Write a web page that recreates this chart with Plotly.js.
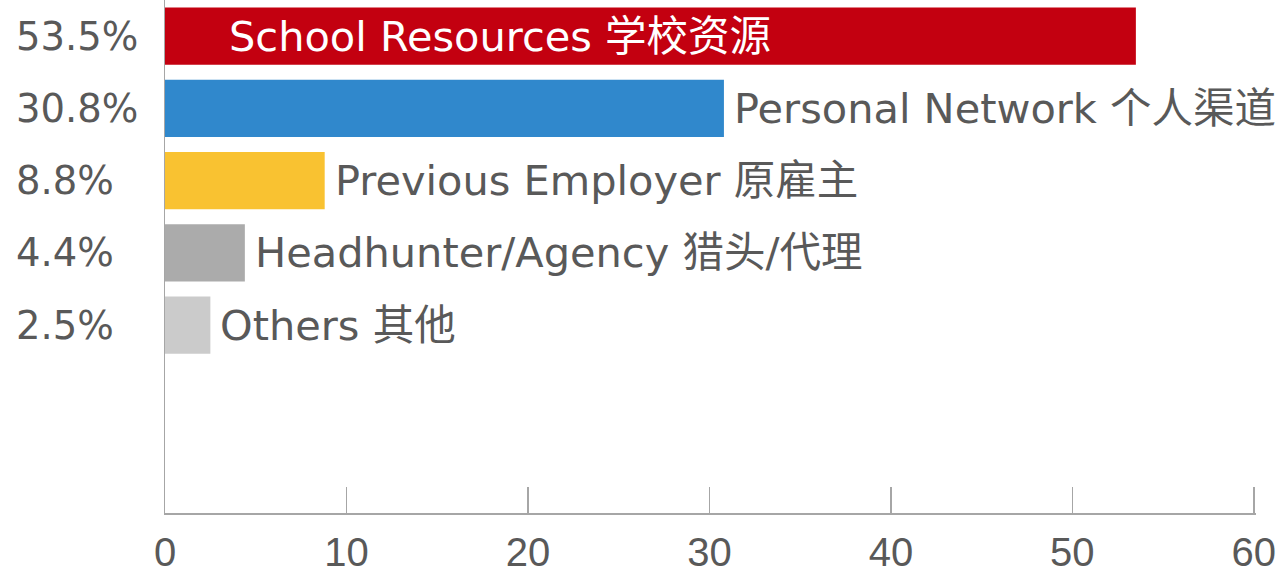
<!DOCTYPE html>
<html>
<head>
<meta charset="utf-8">
<script src="https://cdn.plot.ly/plotly-3.0.1.min.js"></script>
<style>
  html, body { margin: 0; padding: 0; background: #ffffff; }
  #chart { width: 1277px; height: 581px; }
</style>
</head>
<body>
<div id="chart"></div>
<script>
// ---- data ----
const categories = [
  'School Resources 学校资源',
  'Personal Network 个人渠道',
  'Previous Employer 原雇主',
  'Headhunter/Agency 猎头/代理',
  'Others 其他'
];
const values = [53.5, 30.8, 8.8, 4.4, 2.5];
const pctLabels = ['53.5%', '30.8%', '8.8%', '4.4%', '2.5%'];
const xTicks = [0, 10, 20, 30, 40, 50, 60];

// ---- styles ----
const barColors = ['#c30010', '#3088cc', '#f9c231', '#ababab', '#cbcbcb'];
const FONT = 'DejaVu Sans, Noto Sans CJK SC, sans-serif';
const TICKFONT = 'Liberation Sans, Arial, sans-serif';
const TEXT = '#595959';
const AXIS = '#a6a6a6';

const trace = {
  type: 'bar',
  orientation: 'h',
  x: values,
  y: categories,
  width: 0.79,
  marker: { color: barColors, line: { width: 0 } },
  hoverinfo: 'x+y'
};

const annotations = [];
categories.forEach((c, i) => {
  const inside = values[i] > 40;
  annotations.push({
    xref: 'x', yref: 'y',
    x: inside ? 0 : values[i],
    y: c,
    text: c,
    showarrow: false,
    xanchor: 'left',
    yanchor: 'middle',
    xshift: inside ? 62 : 8,
    font: { family: FONT, size: 41.5, color: inside ? '#ffffff' : TEXT }
  });
  annotations.push({
    xref: 'paper', yref: 'y',
    x: 0, y: c,
    text: pctLabels[i],
    showarrow: false,
    xanchor: 'left',
    yanchor: 'middle',
    xshift: -151,
    font: { family: FONT, size: 38.5, color: TEXT }
  });
});

const layout = {
  width: 1277,
  height: 581,
  margin: { l: 165, r: 21, t: 0, b: 68, pad: 0 },
  paper_bgcolor: '#ffffff',
  plot_bgcolor: '#ffffff',
  showlegend: false,
  font: { family: FONT, color: TEXT },
  xaxis: {
    range: [0, 60.12],
    tickvals: xTicks,
    ticktext: xTicks.map(String),
    ticks: 'inside',
    ticklen: 26,
    tickwidth: 1.5,
    tickcolor: AXIS,
    ticklabelstandoff: 3,
    ticklabeloverflow: 'allow',
    showline: true,
    linecolor: AXIS,
    linewidth: 1.5,
    showgrid: false,
    zeroline: false,
    tickfont: { family: TICKFONT, size: 40, color: TEXT },
    fixedrange: true
  },
  yaxis: {
    type: 'category',
    range: [6.6, -0.5],
    showticklabels: false,
    ticks: '',
    showline: true,
    linecolor: AXIS,
    linewidth: 1.5,
    showgrid: false,
    zeroline: false,
    fixedrange: true
  },
  annotations: annotations
};

Plotly.newPlot('chart', [trace], layout, { displayModeBar: false, staticPlot: true });
</script>
</body>
</html>
